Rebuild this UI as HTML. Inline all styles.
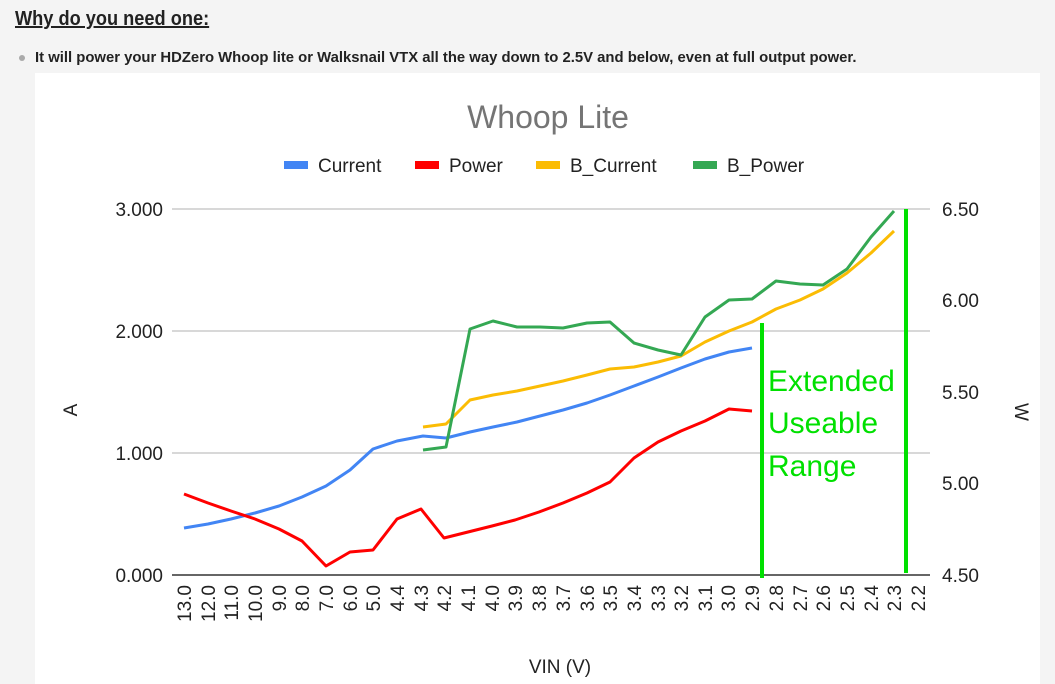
<!DOCTYPE html>
<html><head><meta charset="utf-8"><style>
body{margin:0;width:1055px;height:684px;background:#f4f4f4;overflow:hidden;font-family:"Liberation Sans",sans-serif;}
.h{position:absolute;left:15px;top:8px;font-size:20px;font-weight:bold;text-decoration:underline;color:#222;transform:scaleX(0.91);transform-origin:left top;}
.b{position:absolute;left:35px;top:49px;font-size:15px;font-weight:bold;color:#222;transform:scaleX(0.99);transform-origin:left top;white-space:nowrap;}
.dot{position:absolute;left:19px;top:55px;width:6px;height:6px;border-radius:50%;background:#aaa;}
svg{position:absolute;left:0;top:0;}
</style></head><body>
<div class="h">Why do you need one:</div>
<div class="dot"></div>
<div class="b">It will power your HDZero Whoop lite or Walksnail VTX all the way down to 2.5V and below, even at full output power.</div>
<svg width="1055" height="684" font-family="Liberation Sans, sans-serif">
<rect x="35" y="73" width="1005" height="611" fill="#fff"/>
<text x="548" y="128" font-size="32" fill="#757575" text-anchor="middle">Whoop Lite</text>
<g font-size="19" fill="#222">
<rect x="284" y="161" width="24" height="8" fill="#4285f4"/><text x="318" y="172">Current</text>
<rect x="415" y="161" width="24" height="8" fill="#ff0000"/><text x="449" y="172">Power</text>
<rect x="536" y="161" width="24" height="8" fill="#fbbc04"/><text x="570" y="172">B_Current</text>
<rect x="693" y="161" width="24" height="8" fill="#34a853"/><text x="727" y="172">B_Power</text>
</g>
<g stroke="#ccc" stroke-width="1.5"><line x1="172" y1="209" x2="930" y2="209"/><line x1="172" y1="331" x2="930" y2="331"/><line x1="172" y1="453" x2="930" y2="453"/></g>
<line x1="172" y1="575" x2="930" y2="575" stroke="#333" stroke-width="1.5"/>
<g font-size="19" fill="#222" text-anchor="end"><text x="163" y="216">3.000</text><text x="163" y="338">2.000</text><text x="163" y="460">1.000</text><text x="163" y="582">0.000</text></g>
<g font-size="19" fill="#222"><text x="942" y="216">6.50</text><text x="942" y="307">6.00</text><text x="942" y="399">5.50</text><text x="942" y="490">5.00</text><text x="942" y="582">4.50</text></g>
<text transform="translate(77,410) rotate(-90)" font-size="19" text-anchor="middle" fill="#222">A</text>
<text transform="translate(1015,412) rotate(90)" font-size="19" text-anchor="middle" fill="#222">W</text>
<text x="560" y="673" font-size="19" text-anchor="middle" fill="#222">VIN (V)</text>
<g font-size="19" fill="#222" text-anchor="end">
<text transform="translate(191,585) rotate(-90)">13.0</text><text transform="translate(215,585) rotate(-90)">12.0</text><text transform="translate(238,585) rotate(-90)">11.0</text><text transform="translate(262,585) rotate(-90)">10.0</text><text transform="translate(286,585) rotate(-90)">9.0</text><text transform="translate(309,585) rotate(-90)">8.0</text><text transform="translate(333,585) rotate(-90)">7.0</text><text transform="translate(357,585) rotate(-90)">6.0</text><text transform="translate(380,585) rotate(-90)">5.0</text><text transform="translate(404,585) rotate(-90)">4.4</text><text transform="translate(428,585) rotate(-90)">4.3</text><text transform="translate(451,585) rotate(-90)">4.2</text><text transform="translate(475,585) rotate(-90)">4.1</text><text transform="translate(499,585) rotate(-90)">4.0</text><text transform="translate(522,585) rotate(-90)">3.9</text><text transform="translate(546,585) rotate(-90)">3.8</text><text transform="translate(570,585) rotate(-90)">3.7</text><text transform="translate(594,585) rotate(-90)">3.6</text><text transform="translate(617,585) rotate(-90)">3.5</text><text transform="translate(641,585) rotate(-90)">3.4</text><text transform="translate(665,585) rotate(-90)">3.3</text><text transform="translate(688,585) rotate(-90)">3.2</text><text transform="translate(712,585) rotate(-90)">3.1</text><text transform="translate(735,585) rotate(-90)">3.0</text><text transform="translate(759,585) rotate(-90)">2.9</text><text transform="translate(783,585) rotate(-90)">2.8</text><text transform="translate(807,585) rotate(-90)">2.7</text><text transform="translate(830,585) rotate(-90)">2.6</text><text transform="translate(854,585) rotate(-90)">2.5</text><text transform="translate(878,585) rotate(-90)">2.4</text><text transform="translate(901,585) rotate(-90)">2.3</text><text transform="translate(925,585) rotate(-90)">2.2</text>
</g>
<g fill="none" stroke-width="3" stroke-linejoin="round">
<polyline stroke="#4285f4" points="184,528 208,524 231,519 255,513 279,506 302,497 326,486 350,470 373,449 397,441 423,436 446,438 470,432 493,427 517,422 540,416 563,410 587,403 610,395 634,386 658,377 681,368 705,359 729,352 752,348"/>
<polyline stroke="#ff0000" points="184,494 208,503 231,511 255,519 279,529 302,541 326,566 350,552 373,550 397,519 421,509 444,538 468,532 492,526 515,520 539,512 563,503 587,493 610,482 634,458 658,442 681,431 705,421 729,409 752,411"/>
<polyline stroke="#fbbc04" points="423,427 446,424 470,400 493,395 517,391 540,386 563,381 587,375 610,369 634,367 658,362 681,356 705,342 729,331 752,322 776,309 800,300 823,289 847,273 871,253 894,231"/>
<polyline stroke="#34a853" points="423,450 446,447 470,329 493,321 517,327 540,327 563,328 587,323 610,322 634,343 658,350 681,355 705,317 729,300 752,299 776,281 800,284 823,285 847,269 871,237 894,211"/>
</g>
<g stroke="#00e000" stroke-width="4"><line x1="762" y1="323" x2="762" y2="578"/><line x1="906" y1="209" x2="906" y2="573"/></g>
<g font-size="30" fill="#00e000"><text x="768" y="391">Extended</text><text x="768" y="433">Useable</text><text x="768" y="476">Range</text></g>
</svg>
</body></html>
